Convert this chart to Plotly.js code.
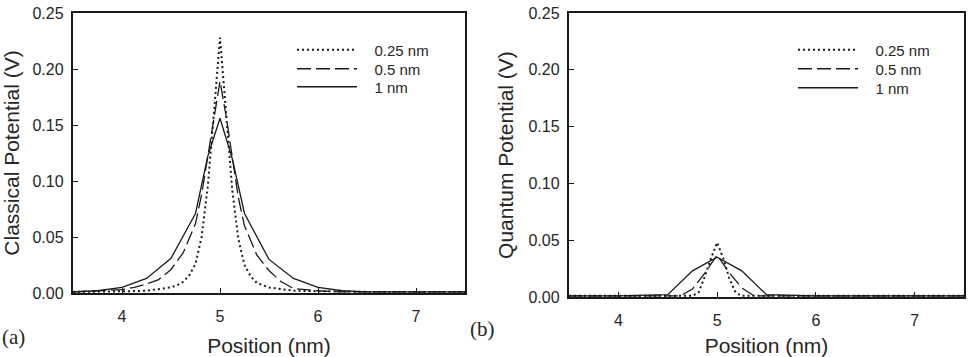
<!DOCTYPE html>
<html>
<head>
<meta charset="utf-8">
<script src="https://cdn.plot.ly/plotly-3.0.1.min.js"></script>
<style>html,body{margin:0;padding:0;background:#fff}#plot{width:971px;height:357px}</style>
</head>
<body>
<div id="plot"></div>
<script>
// Panel (a): Classical potential
const seriesNames = ["0.25 nm", "0.5 nm", "1 nm"];
const xTicks = [4, 5, 6, 7];
const yTicks = [0, 0.05, 0.10, 0.15, 0.20, 0.25];

const classicalX_025 = [3.5, 3.75, 4.0, 4.25, 4.5, 4.5625, 4.625, 4.6875, 4.75, 4.8125, 4.875, 4.9375, 5.0, 5.0625, 5.125, 5.1875, 5.25, 5.3125, 5.375, 5.4375, 5.5, 5.75, 6.0, 6.25, 6.5, 7.0, 7.5];
const classicalY_025 = [0.001, 0.001, 0.0015, 0.002, 0.005, 0.007, 0.010, 0.016, 0.026, 0.050, 0.095, 0.160, 0.228, 0.160, 0.092, 0.048, 0.025, 0.015, 0.009, 0.007, 0.005, 0.002, 0.0015, 0.001, 0.001, 0.001, 0.001];

const classicalX_05 = [3.5, 3.75, 4.0, 4.125, 4.25, 4.375, 4.5, 4.625, 4.75, 4.8125, 4.875, 4.9375, 5.0, 5.0625, 5.125, 5.1875, 5.25, 5.375, 5.5, 5.625, 5.75, 5.875, 6.0, 6.25, 6.5, 7.0, 7.5];
const classicalY_05 = [0.001, 0.002, 0.003, 0.005, 0.008, 0.012, 0.021, 0.036, 0.062, 0.088, 0.122, 0.158, 0.189, 0.158, 0.120, 0.085, 0.060, 0.034, 0.020, 0.010, 0.004, 0.003, 0.002, 0.001, 0.001, 0.001, 0.001];

const classicalX_1 = [3.5, 3.75, 4.0, 4.25, 4.5, 4.75, 4.875, 5.0, 5.125, 5.25, 5.5, 5.75, 6.0, 6.25, 6.5, 7.0, 7.5];
const classicalY_1 = [0.001, 0.002, 0.005, 0.013, 0.031, 0.071, 0.122, 0.156, 0.120, 0.071, 0.030, 0.013, 0.005, 0.002, 0.001, 0.001, 0.001];

// Panel (b): Quantum potential
const quantumX_025 = [3.5, 4.0, 4.5, 4.75, 4.8125, 4.875, 4.9375, 5.0, 5.0625, 5.125, 5.1875, 5.25, 5.5, 6.0, 6.5, 7.0, 7.5];
const quantumY_025 = [0.001, 0.001, 0.001, 0.001, 0.004, 0.018, 0.034, 0.048, 0.034, 0.016, 0.004, 0.001, 0.001, 0.001, 0.001, 0.001, 0.001];

const quantumX_05 = [3.5, 4.0, 4.5, 4.625, 4.75, 4.875, 5.0, 5.125, 5.25, 5.375, 5.5, 6.0, 6.5, 7.0, 7.5];
const quantumY_05 = [0.001, 0.001, 0.001, 0.001, 0.007, 0.021, 0.037, 0.021, 0.008, 0.001, 0.001, 0.001, 0.001, 0.001, 0.001];

const quantumX_1 = [3.5, 4.0, 4.5, 4.75, 5.0, 5.25, 5.5, 6.0, 6.5, 7.0, 7.5];
const quantumY_1 = [0.001, 0.001, 0.002, 0.023, 0.035, 0.023, 0.002, 0.001, 0.001, 0.001, 0.001];

const INK = "#1a1a1a";
const TXT = "#262626";
const FONT = "Liberation Sans, Arial, Helvetica, sans-serif";
const dashes = ["2px,3px", "14px,5px", "solid"];
const widths = [2, 1.3, 1.3];
const PAD = "\u00a0\u00a0\u00a0";

function mk(x, y, i, xa, ya, leg) {
  return {
    x: x, y: y, type: "scatter", mode: "lines",
    name: PAD + seriesNames[i], xaxis: xa, yaxis: ya, legend: leg,
    line: {color: INK, width: widths[i], dash: dashes[i]},
    hoverinfo: "skip"
  };
}

const traces = [
  mk(classicalX_025, classicalY_025, 0, "x", "y", "legend"),
  mk(classicalX_05, classicalY_05, 1, "x", "y", "legend2"),
  mk(classicalX_1, classicalY_1, 2, "x", "y", "legend3"),
  mk(quantumX_025, quantumY_025, 0, "x2", "y2", "legend4"),
  mk(quantumX_05, quantumY_05, 1, "x2", "y2", "legend5"),
  mk(quantumX_1, quantumY_1, 2, "x2", "y2", "legend6")
];

const W = 971, H = 357;
function xa(domain, anchor, standoff) {
  return {
    domain: domain, anchor: anchor, range: [3.5, 7.5],
    tickvals: xTicks, ticktext: xTicks.map(String),
    ticks: "inside", ticklen: 5, tickwidth: 1, tickcolor: INK,
    showline: true, linewidth: 2.2, linecolor: INK, mirror: true,
    showgrid: false, zeroline: false,
    tickfont: {family: FONT, size: 16, color: TXT},
    ticklabelstandoff: 8,
    title: {text: "Position (nm)", font: {family: FONT, size: 21, color: TXT}, standoff: standoff}
  };
}
function ya(domain, anchor, title) {
  return {
    domain: domain, anchor: anchor, range: [0, 0.25],
    tickvals: yTicks, tickformat: ".2f",
    ticks: "inside", ticklen: 5, tickwidth: 1, tickcolor: INK,
    showline: true, linewidth: 2.2, linecolor: INK, mirror: true,
    showgrid: false, zeroline: false,
    tickfont: {family: FONT, size: 16, color: TXT},
    ticklabelstandoff: 4,
    title: {text: title, font: {family: FONT, size: 21, color: TXT}, standoff: 9}
  };
}

function leg(xpx, ypx) {
  return {
    font: {family: FONT, size: 15, color: TXT},
    bgcolor: "rgba(0,0,0,0)", borderwidth: 0,
    itemwidth: 60, tracegroupgap: 0,
    x: xpx / W, y: 1 - ypx / H,
    xanchor: "left", yanchor: "middle", itemclick: false, itemdoubleclick: false
  };
}

const layout = {
  width: W, height: H,
  margin: {l: 0, r: 0, t: 0, b: 0},
  paper_bgcolor: "#fff", plot_bgcolor: "#fff",
  showlegend: true,
  xaxis: xa([73 / W, 465 / W], "y", 14),
  yaxis: ya([1 - 293 / H, 1 - 13 / H], "x", "Classical Potential (V)"),
  xaxis2: xa([569 / W, 964 / W], "y2", 11),
  yaxis2: ya([1 - 297 / H, 1 - 13 / H], "x2", "Quantum Potential (V)"),
  legend: leg(292, 50),
  legend2: leg(292, 69),
  legend3: leg(292, 87),
  legend4: leg(793, 50),
  legend5: leg(793, 69),
  legend6: leg(793, 88),
  annotations: [
    {text: "(a)", xref: "paper", yref: "paper", x: 0, y: 1 - 337 / H, xanchor: "left", yanchor: "middle",
     showarrow: false, font: {family: "Liberation Serif, Times New Roman, serif", size: 21, color: TXT}},
    {text: "(b)", xref: "paper", yref: "paper", x: 468 / W, y: 1 - 329 / H, xanchor: "left", yanchor: "middle",
     showarrow: false, font: {family: "Liberation Serif, Times New Roman, serif", size: 21, color: TXT}}
  ]
};

Plotly.newPlot("plot", traces, layout, {staticPlot: true, displayModeBar: false});
</script>
</body>
</html>
